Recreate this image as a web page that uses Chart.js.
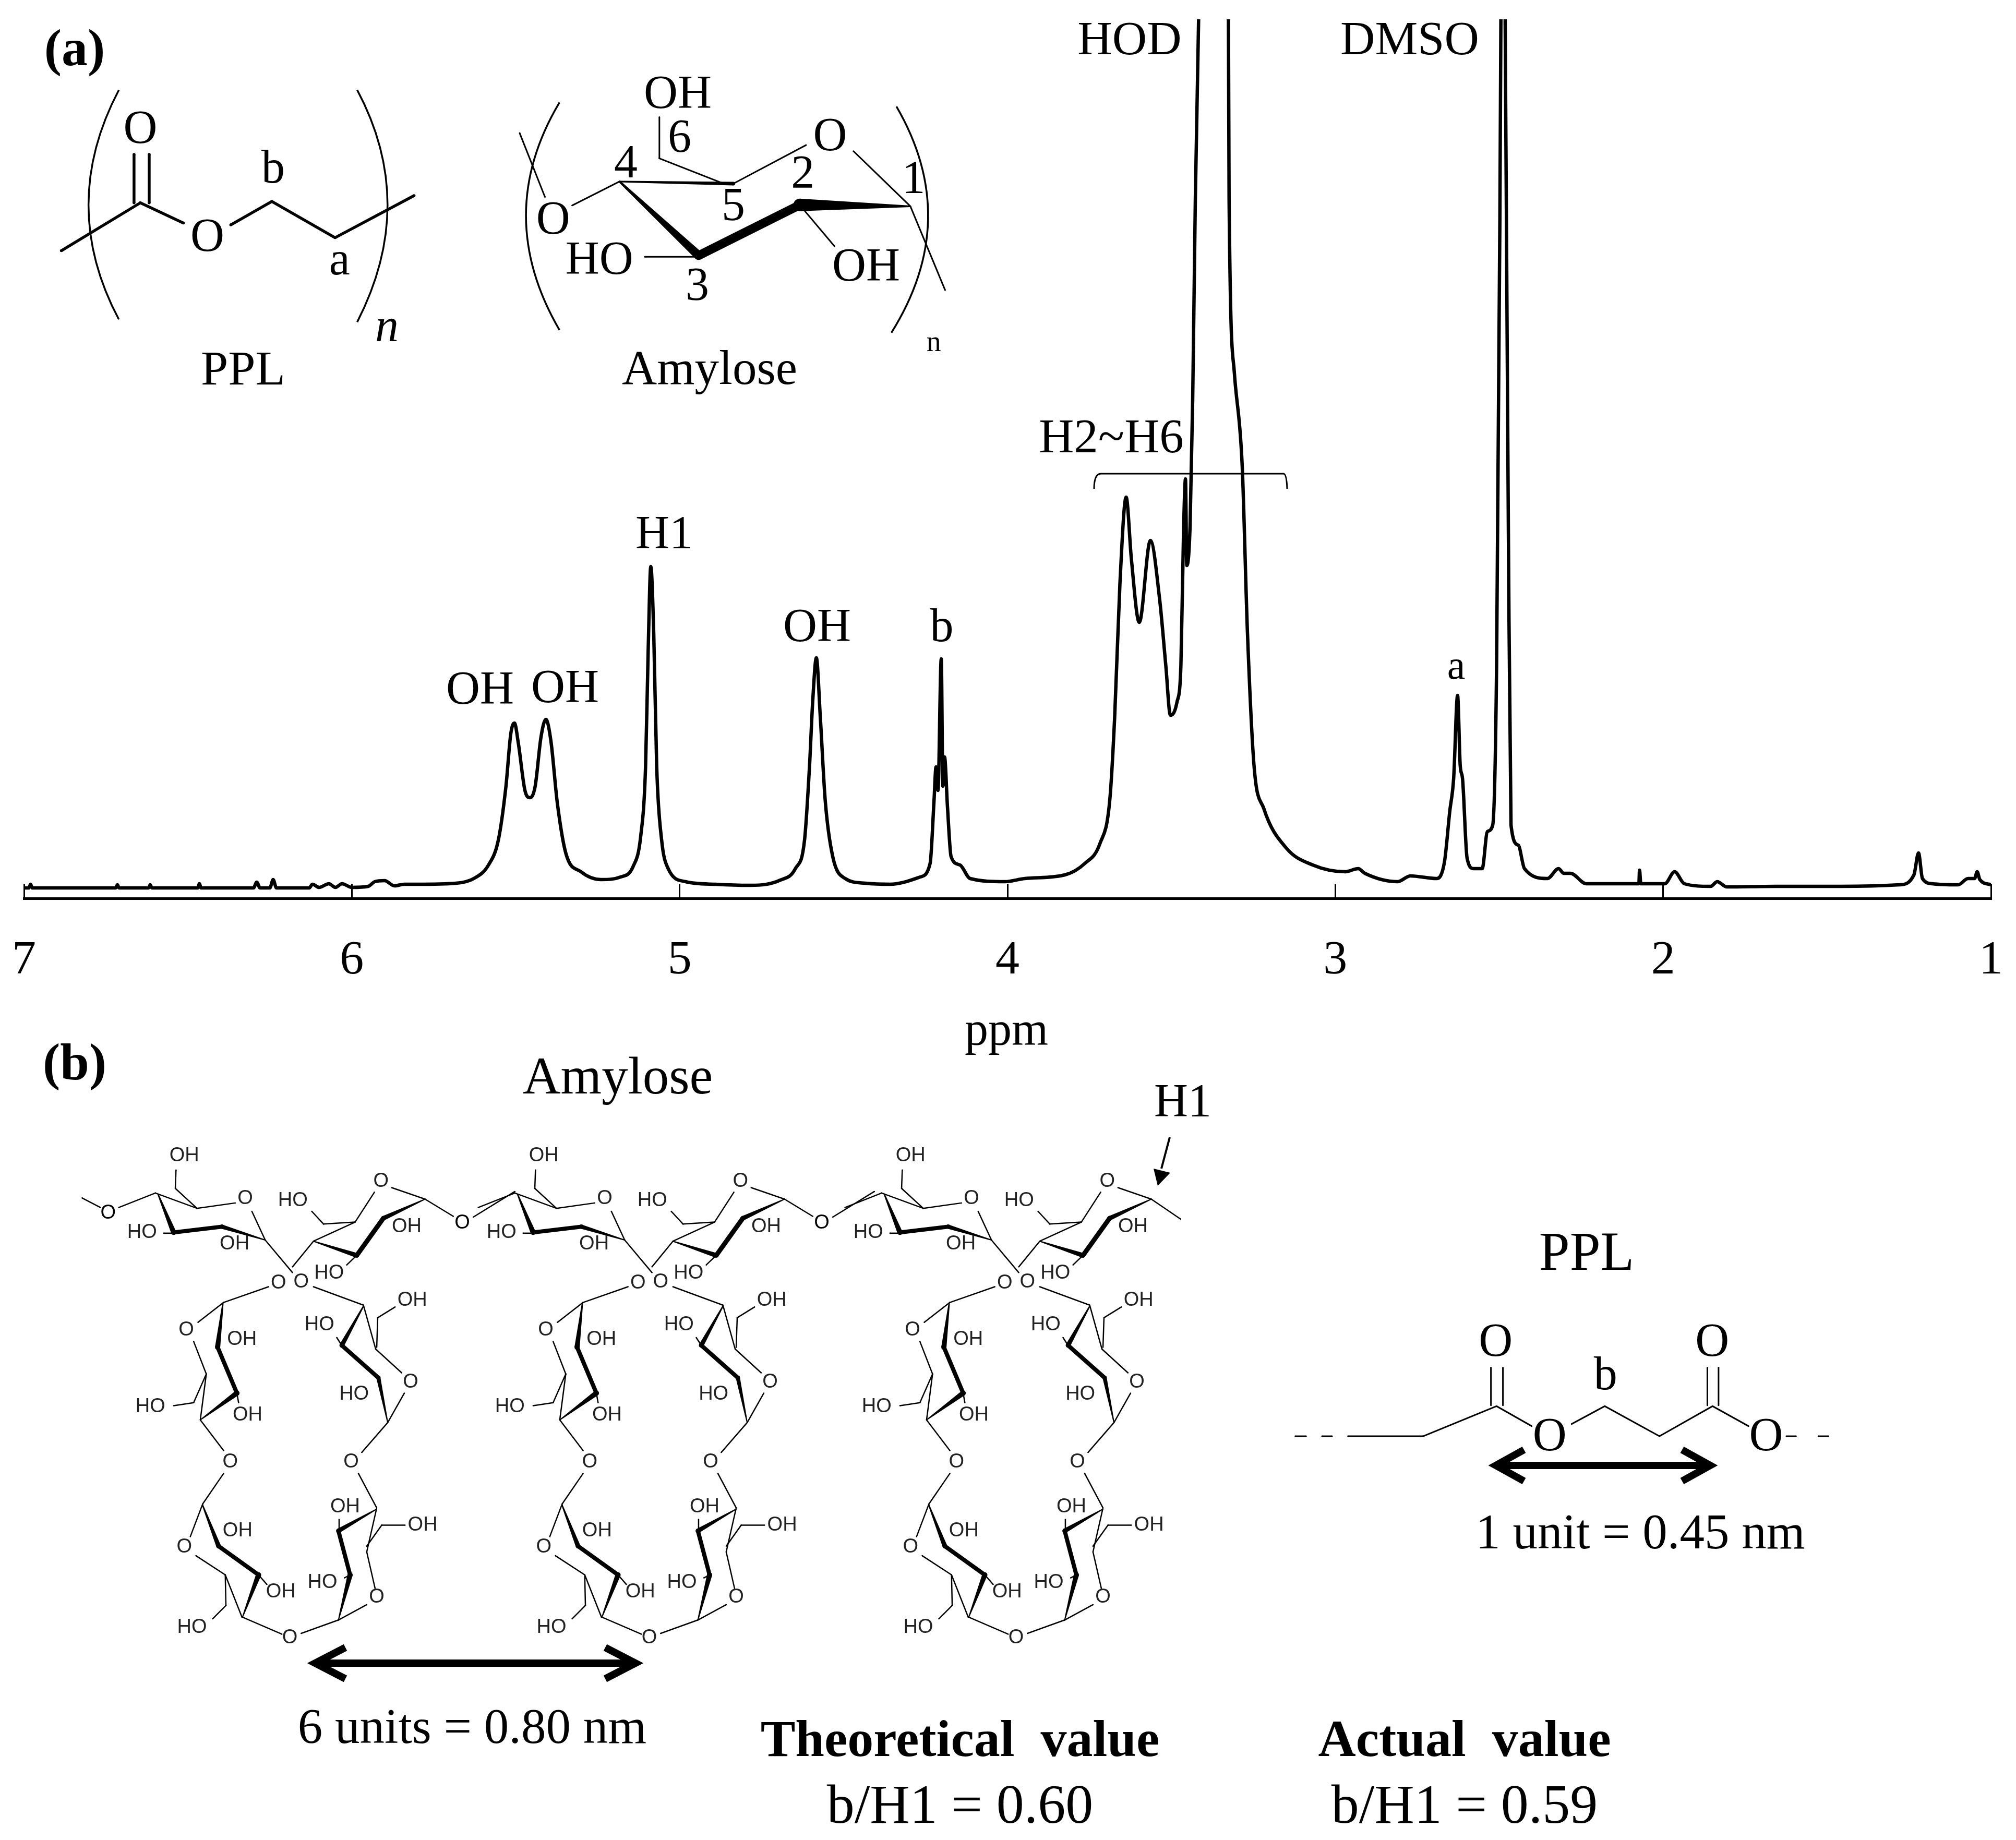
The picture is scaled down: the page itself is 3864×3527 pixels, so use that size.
<!DOCTYPE html>
<html>
<head>
<meta charset="utf-8">
<title>1H NMR of amylose / PPL</title>
<script src="https://cdn.jsdelivr.net/npm/chart.js@4"></script>
<style>
  html, body { margin: 0; padding: 0; background: #fff; }
  canvas { display: block; }
</style>
</head>
<body>
<canvas id="nmr" width="3864" height="3527"></canvas>
<script>
// Spectrum: chemical shift (ppm) and signal height
const ppm = [7, 6.985, 6.98, 6.975, 6.72, 6.715, 6.71, 6.62, 6.615, 6.61, 6.47, 6.465, 6.46, 6.3, 6.29, 6.28, 6.25, 6.24, 6.23, 6.13, 6.12, 6.1, 6.07, 6.05, 6.03, 6.0,
  5.95, 5.93, 5.9, 5.87, 5.84, 5.8, 5.682, 5.628, 5.583, 5.553, 5.53, 5.515, 5.504, 5.492, 5.472, 5.457, 5.441, 5.423, 5.408, 5.393, 5.373, 5.347, 5.301, 5.24, 5.18, 5.142, 5.119, 5.104, 5.096, 5.088, 5.079, 5.07, 5.055, 5.035, 4.982, 4.89, 4.784, 4.693, 4.647, 4.619, 4.604, 4.594, 4.583, 4.571, 4.556, 4.533, 4.495, 4.434, 4.358, 4.266, 4.236, 4.224, 4.218, 4.212, 4.202, 4.197, 4.192, 4.183, 4.172, 4.145, 4.114, 4.008, 3.947, 3.825, 3.764, 3.718, 3.688, 3.673, 3.657, 3.638, 3.622, 3.598, 3.564, 3.536, 3.517, 3.503, 3.483, 3.471, 3.463, 3.457, 3.453, 3.443, 3.435, 3.427, 3.417, 3.37, 3.326, 3.324, 3.308, 3.284, 3.268, 3.248, 3.218, 3.149, 3.069, 2.97, 2.93, 2.91, 2.81, 2.771, 2.691, 2.667, 2.651, 2.639, 2.627, 2.619, 2.612, 2.598, 2.578, 2.552, 2.536, 2.52, 2.508, 2.498, 2.494, 2.489, 2.483, 2.478, 2.472, 2.464, 2.442, 2.423, 2.353, 2.319, 2.303, 2.283, 2.234, 2.134, 2.074, 2.072, 2.068, 1.995, 1.965, 1.935, 1.855, 1.835, 1.806, 1.657, 1.458, 1.279, 1.235, 1.221, 1.209, 1.179, 1.1, 1.07, 1.05, 1.042, 1.034, 1];
const intensity = [20, 20, 27, 20, 20, 26, 20, 20, 26, 20, 20, 28, 20, 20, 31, 20, 20, 36, 20, 20, 27, 21, 28, 21, 28, 21,
  23, 32, 34, 24, 27, 27, 29, 38, 64, 112, 214, 316, 336, 297, 207, 193, 214, 309, 343, 303, 182, 86, 51, 36, 41, 61, 118, 252, 475, 636, 507, 252, 112, 57, 32, 27, 25, 35, 57, 112, 252, 379, 461, 348, 188, 80, 38, 29, 27, 41, 67, 188, 252, 207, 459, 215, 271, 175, 80, 64, 38, 32, 38, 45, 67, 105, 188, 348, 603, 769, 650, 529, 686, 574, 446, 351, 376, 446, 701, 804, 638, 714, 957, 1339, 1684, 2400, 1684, 1339, 1008, 829, 510, 255, 172, 96, 64, 51, 57, 48, 32, 43, 38, 70, 166, 230, 389, 255, 230, 77, 57, 57, 128, 140, 446, 1300, 1800, 2600, 1800, 1300, 700, 140, 102, 57, 38, 57, 48, 48, 28, 28, 28, 54, 28, 28, 51, 28, 23, 32, 22, 23, 23, 26, 45, 87, 38, 28, 26, 38, 38, 51, 36, 26];
const xTickValues = [7, 6, 5, 4, 3, 2, 1];

const serif = '"Liberation Serif"';
const sans = '"Liberation Sans"';

// helpers for the chemical drawings, all on the page's own pixel grid
function bond(c, g, b) {
  const x1 = g.ox + b[0] * g.sx, y1 = g.oy + b[1] * g.sy;
  const x2 = g.ox + b[2] * g.sx, y2 = g.oy + b[3] * g.sy;
  const w1 = (b[4] || g.w || 2.5) / 2, w2 = (b[5] || b[4] || g.w || 2.5) / 2;
  const len = Math.hypot(x2 - x1, y2 - y1) || 1;
  const nx = -(y2 - y1) / len, ny = (x2 - x1) / len;
  c.beginPath();
  c.moveTo(x1 + nx * w1, y1 + ny * w1);
  c.lineTo(x2 + nx * w2, y2 + ny * w2);
  c.lineTo(x2 - nx * w2, y2 - ny * w2);
  c.lineTo(x1 - nx * w1, y1 - ny * w1);
  c.closePath();
  c.fill();
  c.beginPath();
  c.arc(x1, y1, w1, 0, 7);
  c.arc(x2, y2, w2, 0, 7);
  c.fill();
}

function arcLine(c, g, a, m, b, w) {
  const px = 2 * m[0] - (a[0] + b[0]) / 2, py = 2 * m[1] - (a[1] + b[1]) / 2;
  c.lineWidth = w;
  c.beginPath();
  c.moveTo(g.ox + a[0] * g.sx, g.oy + a[1] * g.sy);
  c.quadraticCurveTo(g.ox + px * g.sx, g.oy + py * g.sy, g.ox + b[0] * g.sx, g.oy + b[1] * g.sy);
  c.stroke();
}

function label(c, text, x, y, size, family, style) {
  c.font = (style ? style + ' ' : '') + size + 'px ' + family;
  c.textAlign = 'center';
  c.textBaseline = 'middle';
  c.fillText(text, x, y);
}

function gText(c, g, t, size, family, style) {
  label(c, t[0], g.ox + t[1] * g.sx, g.oy + t[2] * g.sy, size, family, style);
}

function doubleArrow(c, x1, x2, y, w, hx, hy) {
  c.lineWidth = w;
  c.lineCap = 'butt';
  c.beginPath();
  c.moveTo(x1 + 4, y);
  c.lineTo(x2 - 4, y);
  c.moveTo(x1 + hx, y - hy);
  c.lineTo(x1 + 4, y);
  c.lineTo(x1 + hx, y + hy);
  c.moveTo(x2 - hx, y - hy);
  c.lineTo(x2 - 4, y);
  c.lineTo(x2 - hx, y + hy);
  c.stroke();
}

// top left PPL repeat unit
function drawPPLTop(c) {
  const g = { sx: 1.2117, sy: 0.5102, ox: 0, oy: 0, w: 5.5 };
  [[97, 942, 222, 762], [212, 762, 212, 580], [236, 762, 236, 580], [222, 762, 290, 838], [365, 845, 430, 757],
   [430, 757, 530, 893], [530, 893, 655, 735]].forEach(b => bond(c, g, b));
  arcLine(c, g, [188, 338], [140, 770], [188, 1200], 3.5);
  arcLine(c, g, [565, 338], [613, 770], [565, 1210], 3.5);
  [['O', 222, 490], ['b', 432, 640], ['O', 328, 897], ['a', 537, 985]].forEach(t => gText(c, g, t, 90, serif));
  gText(c, g, ['n', 612, 1235], 90, serif, 'italic');
}

// top middle amylose repeat unit
function drawAmyloseTop(c) {
  const g = { sx: 1.2117, sy: 0.5102, ox: 0, oy: 0, w: 3 };
  [[905, 772, 980, 682], [980, 682, 1160, 690, 3, 7], [1160, 690, 1275, 545], [1350, 568, 1440, 775],
   [1043, 440, 1043, 595], [1043, 595, 1145, 690], [980, 682, 1105, 960, 4, 17], [1105, 960, 1265, 770, 17, 17],
   [1265, 770, 1440, 775, 24, 3], [1020, 965, 1105, 965], [1265, 770, 1320, 925], [822, 500, 862, 740], [1440, 775, 1495, 1090]].forEach(b => bond(c, g, b));
  arcLine(c, g, [885, 385], [832, 810], [885, 1240], 3.5);
  arcLine(c, g, [1418, 400], [1468, 825], [1410, 1250], 3.5);
  [['OH', 1072, 360], ['6', 1075, 525], ['4', 990, 620], ['O', 875, 832], ['5', 1160, 780], ['2', 1270, 660], ['O', 1313, 518],
   ['1', 1445, 678], ['HO', 948, 982], ['3', 1103, 1080], ['OH', 1370, 1008]].forEach(t => gText(c, g, t, 90, serif));
  gText(c, g, ['n', 1477, 1290], 56, serif);
}

// one amylose column of the helix drawing, repeated three times in panel (b)
const unitThin = [
  [200, 290, 310, 252], [310, 252, 435, 292], [370, 240, 435, 292], [372, 192, 370, 240], [435, 292, 550, 278], [600, 300, 640, 375],
  [335, 357, 365, 357], [640, 375, 722, 460], [722, 445, 785, 378], [785, 378, 910, 328], [815, 333, 910, 328], [780, 300, 815, 333],
  [910, 328, 968, 250], [1020, 238, 1120, 268], [915, 415, 885, 440], [650, 497, 515, 538], [515, 538, 438, 590], [425, 640, 463, 725],
  [463, 725, 445, 845], [463, 725, 425, 800], [425, 800, 365, 808], [555, 775, 560, 800], [445, 845, 515, 925], [515, 985, 452, 1065],
  [452, 1065, 415, 1150], [432, 1200, 520, 1250], [520, 1250, 570, 1360], [520, 1250, 522, 1330], [522, 1330, 482, 1365], [620, 1250, 645, 1275],
  [570, 1360, 690, 1405], [748, 1403, 860, 1368], [860, 1368, 945, 1328], [970, 1285, 945, 1190], [945, 1190, 975, 1075], [945, 1175, 990, 1120],
  [990, 1120, 1060, 1120], [862, 1135, 862, 1105], [878, 1258, 895, 1250], [975, 1075, 920, 985], [930, 930, 1008, 852], [1008, 852, 1058, 775],
  [1050, 722, 972, 660], [972, 660, 935, 545], [975, 655, 978, 578], [978, 578, 1030, 550], [785, 497, 935, 545], [855, 630, 870, 650]
];
const unitThick = [
  [318, 255, 365, 355, 2.5, 10], [365, 355, 510, 340, 8, 8], [510, 340, 640, 375, 8, 2], [785, 378, 915, 415, 2, 9], [915, 415, 995, 318, 9, 9], [995, 318, 1120, 268, 9, 2],
  [513, 540, 497, 655, 2.5, 10], [497, 655, 555, 775, 8, 8], [555, 775, 445, 845, 10, 2], [452, 1068, 500, 1175, 2.5, 9], [500, 1175, 620, 1250, 8, 8], [620, 1250, 572, 1360, 10, 2],
  [975, 1078, 860, 1135, 2, 9], [860, 1135, 895, 1250, 8, 8], [895, 1250, 860, 1368, 10, 2], [935, 548, 870, 650, 2.5, 9], [870, 650, 980, 735, 8, 8], [980, 735, 1008, 852, 8, 2]
];
const unitText = [
  ['OH', 397, 155], ['O', 580, 267], ['HO', 270, 355], ['OH', 548, 385], ['O', 680, 487], ['O', 748, 485], ['HO', 723, 272], ['O', 988, 222], ['OH', 1065, 340], ['HO', 832, 462],
  ['OH', 1082, 533], ['HO', 803, 597], ['O', 403, 610], ['OH', 570, 635], ['O', 1077, 747], ['HO', 295, 810], ['HO', 907, 778], ['OH', 587, 833], ['O', 535, 955], ['O', 898, 955],
  ['OH', 880, 1072], ['OH', 1113, 1120], ['OH', 557, 1135], ['O', 397, 1178], ['HO', 812, 1270], ['OH', 687, 1295], ['O', 975, 1308], ['HO', 420, 1387], ['O', 714, 1415]
];

function drawHelix(c) {
  [0, 689, 1392].forEach((dx, i) => {
    const g = { sx: 0.638, sy: 0.7334, ox: 100 + dx, oy: 2102, w: 2.5 };
    unitThin.forEach(b => bond(c, g, b));
    unitThick.forEach(b => bond(c, g, b));
    c.fillStyle = '#222';
    unitText.forEach(t => gText(c, g, t, 38, sans));
    c.fillStyle = '#000';
    if (i === 0) {
      bond(c, g, [90, 265, 145, 290]);
      gText(c, g, ['O', 168, 305], 38, sans);
    }
    if (i < 2) {
      bond(c, g, [1120, 268, 1205, 313]);
      bond(c, g, [1265, 315, 1390, 248]);
      gText(c, g, ['O', 1232, 330], 38, sans);
    } else {
      bond(c, g, [1120, 268, 1208, 320]);
    }
  });
}

// right hand PPL chain in panel (b)
function drawPPLRight(c) {
  const g = { sx: 0.7653, sy: 0.5102, ox: 2400, oy: 2300, w: 3 };
  [[108, 888, 135, 888], [175, 888, 200, 888], [240, 888, 428, 888], [428, 888, 612, 775], [612, 775, 700, 850], [800, 842, 883, 775], [883, 775, 1020, 888],
   [1020, 888, 1153, 775], [1153, 775, 1243, 850], [1338, 888, 1362, 888], [1418, 888, 1443, 888], [598, 772, 598, 630], [628, 772, 628, 630], [1140, 772, 1140, 630], [1168, 772, 1168, 630]].forEach(b => bond(c, g, b));
  [['O', 610, 540], ['O', 1152, 540], ['b', 885, 665], ['O', 745, 895], ['O', 1287, 895]].forEach(t => gText(c, g, t, 90, serif));
}

const annotations = {
  id: 'annotations',
  afterDraw(chart) {
    const c = chart.ctx;
    c.save();
    c.fillStyle = '#000';
    c.strokeStyle = '#000';
    c.lineCap = 'butt';

    // bracket over the H2~H6 region
    c.lineWidth = 3;
    c.beginPath();
    c.moveTo(2097, 937);
    c.quadraticCurveTo(2097, 908, 2110, 908);
    c.lineTo(2460, 908);
    c.quadraticCurveTo(2466, 908, 2467, 937);
    c.stroke();

    drawPPLTop(c);
    drawAmyloseTop(c);
    drawHelix(c);
    drawPPLRight(c);

    // thick distance arrows
    doubleArrow(c, 600, 1222, 3188, 14, 62, 30);
    doubleArrow(c, 2863, 3282, 2809, 14, 58, 30);

    // small arrow to H1
    c.lineWidth = 4;
    c.beginPath();
    c.moveTo(2242, 2180);
    c.lineTo(2226, 2240);
    c.stroke();
    c.beginPath();
    c.moveTo(2211, 2240);
    c.lineTo(2243, 2248);
    c.lineTo(2219, 2273);
    c.closePath();
    c.fill();

    label(c, '(a)', 143, 99, 100, serif, 'bold');
    label(c, '(b)', 143, 2043, 100, serif, 'bold');
    label(c, 'PPL', 466, 712, 94, serif);
    label(c, 'Amylose', 1360, 712, 93, serif);
    label(c, 'HOD', 2165, 80, 92, serif);
    label(c, 'DMSO', 2702, 80, 92, serif);
    label(c, 'H2~H6', 2130, 843, 93, serif);
    label(c, 'H1', 1273, 1027, 90, serif);
    label(c, 'OH', 920, 1325, 90, serif);
    label(c, 'OH', 1083, 1322, 90, serif);
    label(c, 'OH', 1566, 1205, 90, serif);
    label(c, 'b', 1805, 1205, 90, serif);
    label(c, 'a', 2791, 1281, 78, serif);
    label(c, 'ppm', 1929, 1979, 90, serif);
    label(c, 'Amylose', 1184, 2069, 101, serif);
    label(c, 'H1', 2267, 2116, 90, serif);
    label(c, 'PPL', 3041, 2406, 106, serif);
    label(c, '1 unit = 0.45 nm', 3144, 2943, 95, serif);
    label(c, '6 units = 0.80 nm', 905, 3316, 95, serif);
    label(c, 'Theoretical  value', 1840, 3340, 100, serif, 'bold');
    label(c, 'Actual  value', 2807, 3340, 100, serif, 'bold');
    label(c, 'b/H1 = 0.60', 1840, 3466, 106, serif);
    label(c, 'b/H1 = 0.59', 2807, 3466, 106, serif);
    c.restore();
  }
};

const chart = new Chart(document.getElementById('nmr').getContext('2d'), {
  type: 'line',
  data: {
    datasets: [{
      data: ppm.map((p, i) => ({ x: p, y: intensity[i] })),
      borderColor: '#000',
      borderWidth: 6.5,
      pointRadius: 0,
      cubicInterpolationMode: 'monotone',
      borderJoinStyle: 'round'
    }]
  },
  options: {
    responsive: false,
    animation: false,
    devicePixelRatio: 1,
    parsing: false,
    layout: { padding: { left: 46, right: 48, top: 37, bottom: 0 } },
    plugins: { legend: { display: false }, tooltip: { enabled: false }, title: { display: false } },
    scales: {
      x: {
        type: 'linear',
        reverse: true,
        min: 1,
        max: 7,
        afterBuildTicks: s => { s.ticks = xTickValues.map(v => ({ value: v })); },
        afterFit: s => { s.height = 1805; s.paddingLeft = 0; s.paddingRight = 0; },
        border: { display: true, color: '#000', width: 5 },
        grid: { drawOnChartArea: false, drawTicks: true, tickLength: -28, color: '#000', lineWidth: 3 },
        ticks: {
          color: '#000',
          padding: 93,
          maxRotation: 0,
          autoSkip: false,
          font: { family: 'Liberation Serif', size: 92 },
          callback: v => String(v)
        }
      },
      y: { display: false, min: 0, max: 1685 }
    }
  },
  plugins: [annotations]
});
</script>
</body>
</html>
